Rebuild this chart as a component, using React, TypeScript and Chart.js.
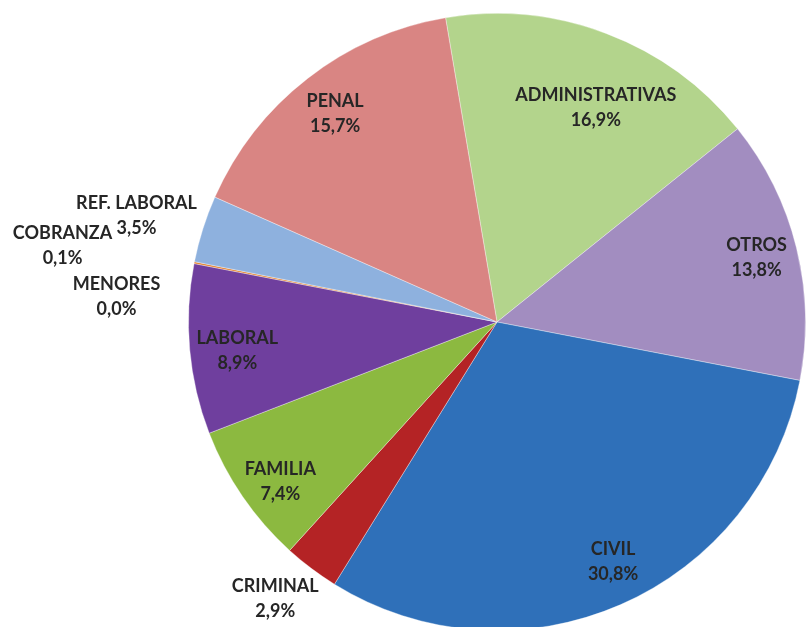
import React, { useEffect, useRef } from "react";
import { Chart, registerables } from "chart.js";

Chart.register(...registerables);

const categories = [
  "ADMINISTRATIVAS",
  "OTROS",
  "CIVIL",
  "CRIMINAL",
  "FAMILIA",
  "LABORAL",
  "MENORES",
  "COBRANZA",
  "REF. LABORAL",
  "PENAL",
];
const shares = [16.9, 13.8, 30.8, 2.9, 7.4, 8.9, 0.0, 0.1, 3.5, 15.7];
const sliceColors = [
  "#b3d48c",
  "#a28dc0",
  "#2f70b9",
  "#b42325",
  "#8cb940",
  "#6f3f9e",
  "#4bacc6",
  "#e4822f",
  "#8eb1de",
  "#d98583",
];
// label placement: [radius factor of outer radius, angle shift in degrees]
const labelPlacement: [number, number][] = [
  [0.766, 3.9],
  [0.867, 0],
  [0.863, -2.2],
  [1.149, 1.7],
  [0.872, -1.9],
  [0.847, -1.3],
  [1.236, -7.1],
  [1.43, -1.1],
  [1.218, -1.2],
  [0.855, 0],
];

const labelPlugin = {
  id: "sliceLabels",
  afterDatasetsDraw(chart: any) {
    const ctx = chart.ctx;
    const meta = chart.getDatasetMeta(0);
    ctx.save();
    ctx.font = "bold 18px Lato, 'Open Sans', sans-serif";
    ctx.fillStyle = "#262626";
    ctx.textAlign = "center";
    ctx.textBaseline = "middle";
    meta.data.forEach((arc: any, i: number) => {
      const p = arc.getProps(["x", "y", "startAngle", "endAngle", "outerRadius"], true);
      const [f, dDeg] = labelPlacement[i];
      const a = (p.startAngle + p.endAngle) / 2 + (dDeg * Math.PI) / 180;
      const cx = p.x + Math.cos(a) * p.outerRadius * f;
      const cy = p.y + Math.sin(a) * p.outerRadius * f;
      const pct = shares[i].toFixed(1).replace(".", ",") + "%";
      ctx.fillText(categories[i], cx, cy - 12.5);
      ctx.fillText(pct, cx, cy + 12.5);
    });
    ctx.restore();
  },
};

export default function App() {
  const canvasRef = useRef<HTMLCanvasElement | null>(null);
  useEffect(() => {
    if (!canvasRef.current) return;
    const chart = new Chart(canvasRef.current, {
      type: "pie",
      data: {
        labels: categories,
        datasets: [
          {
            data: shares,
            backgroundColor: sliceColors,
            borderColor: "rgba(255,255,255,0.35)",
            borderWidth: 1,
          },
        ],
      },
      options: {
        responsive: false,
        animation: false,
        rotation: -9.6,
        layout: { padding: { left: 188, top: 13, right: 0, bottom: 9 } },
        plugins: {
          legend: { display: false },
          tooltip: { enabled: false },
        },
      },
      plugins: [labelPlugin],
    });
    return () => chart.destroy();
  }, []);
  return (
    <div style={{ position: "absolute", left: 0, top: 0, width: 806, height: 627, overflow: "hidden", background: "#fff" }}>
      <canvas ref={canvasRef} width={806} height={640} style={{ display: "block" }} />
    </div>
  );
}
